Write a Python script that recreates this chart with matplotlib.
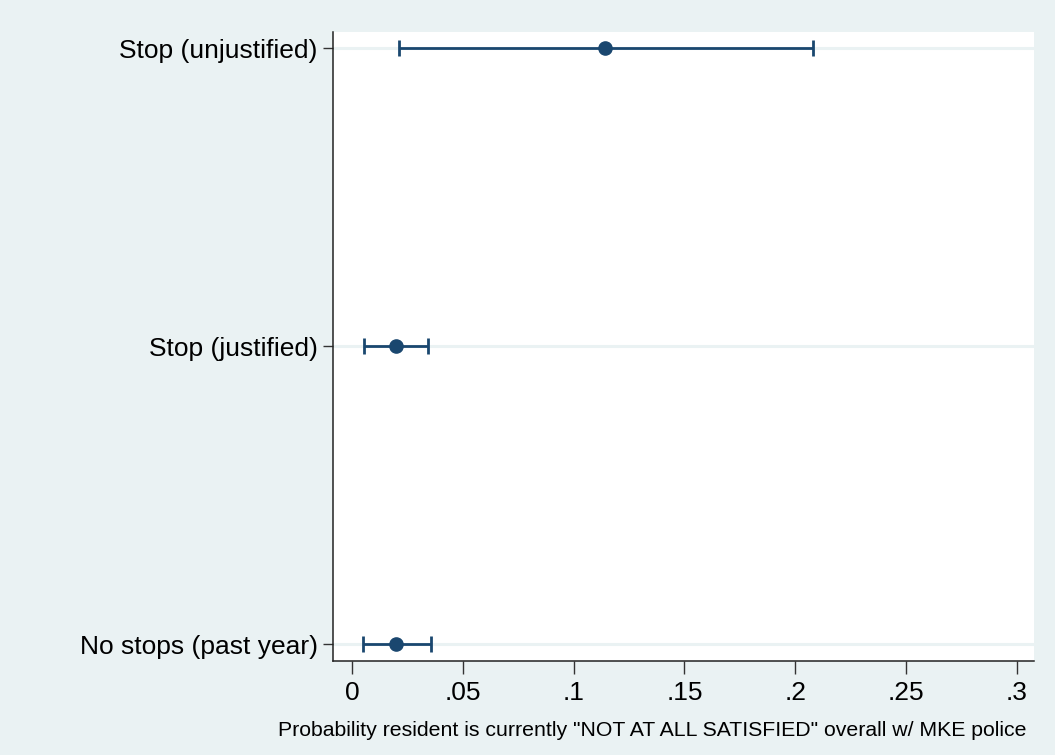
import matplotlib
matplotlib.use("Agg")
import matplotlib.pyplot as plt

# --- data ---
categories = ["No stops (past year)", "Stop (justified)", "Stop (unjustified)"]
estimates  = [0.0199, 0.0198, 0.1141]
ci_low     = [0.0050, 0.0054, 0.0212]
ci_high    = [0.0356, 0.0343, 0.2080]
xticks     = [0, 0.05, 0.1, 0.15, 0.2, 0.25, 0.3]
xticklabels = ["0", ".05", ".1", ".15", ".2", ".25", ".3"]
xlabel = 'Probability resident is currently "NOT AT ALL SATISFIED" overall w/ MKE police'

NAVY = "#1a476f"
BG   = "#eaf2f3"

plt.rcParams["font.family"] = ["Liberation Sans", "DejaVu Sans"]

fig = plt.figure(figsize=(10.55, 7.55), dpi=100, facecolor=BG)
ax = fig.add_axes([333 / 1055, 1 - 661 / 755, (1034 - 333) / 1055, (661 - 32) / 755])
ax.set_facecolor("white")

ypos = list(range(len(categories)))
for y in ypos:
    ax.axhline(y, color=BG, lw=2.2, zorder=1)

err = [[e - l for e, l in zip(estimates, ci_low)],
       [h - e for e, h in zip(estimates, ci_high)]]
ax.errorbar(estimates, ypos, xerr=err, fmt="o", color=NAVY, ecolor=NAVY,
            ms=9.5, elinewidth=2.0, capsize=5.5, capthick=2.0, zorder=3)

ax.set_xlim(-0.00857, 0.3077)
ax.set_ylim(-0.057, 2.054)
ax.set_yticks(ypos)
ax.set_yticklabels(categories, fontsize=19)
ax.set_xticks(xticks)
ax.set_xticklabels(xticklabels, fontsize=19)
ax.tick_params(axis="y", length=7, width=1, color="#333333", pad=4)
ax.tick_params(axis="x", length=9, width=1, color="#333333", pad=5.5)

for s in ("top", "right"):
    ax.spines[s].set_visible(False)
for s in ("left", "bottom"):
    ax.spines[s].set_color("#222222")
    ax.spines[s].set_linewidth(1.1)

fig.text(1027 / 1055, 1 - 731 / 755, xlabel, ha="right", va="center", fontsize=15.3)

fig.savefig("out.png", dpi=100, facecolor=BG)
